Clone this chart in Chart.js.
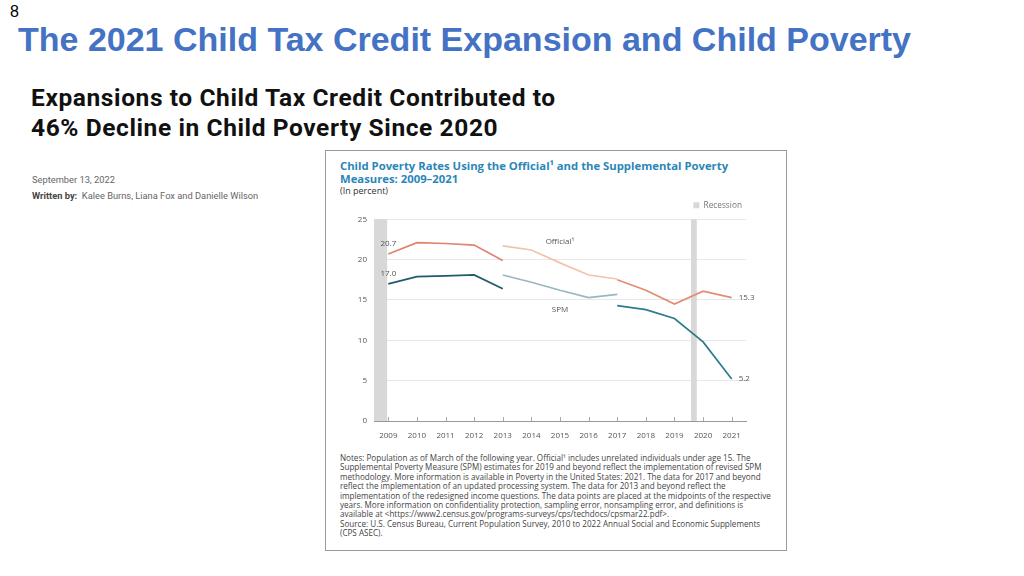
<!DOCTYPE html>
<html>
<head>
<meta charset="utf-8">
<script src="https://cdn.jsdelivr.net/npm/chart.js@4.4.0/dist/chart.umd.min.js"></script>
<style>
  body { margin: 0; width: 1024px; height: 576px; background: #fff; position: relative; overflow: hidden; }
  .abs { position: absolute; white-space: nowrap; }
  #slideNo { left: 10px; top: 3px; font: 16px "Liberation Sans", Arial, sans-serif; color: #000; }
  #slideTitle { left: 18px; top: 22px; font: bold 34px/1 "Liberation Sans", Arial, sans-serif; color: #4472c4; }
  .headline { left: 31px; font: bold 24.5px/1 Roboto, sans-serif; letter-spacing: 0.6px; color: #111; }
  #head1 { top: 86px; }
  #head2 { top: 115.5px; }
  #date { left: 32px; top: 174px; font: 9.3px Roboto, sans-serif; color: #666; }
  #authors { left: 32px; top: 190px; font: 9.3px Roboto, sans-serif; color: #666; }
  #authors b { color: #444; }
  #box { left: 325px; top: 150px; width: 460px; height: 399px; border: 1.5px solid #9a9a9a; background: #fff; }
  #chartTitle { left: 340px; top: 159px; font: bold 11.3px/13px "Open Sans", sans-serif; color: #2b86b8; }
  #unit { left: 340px; top: 184px; font: 9px "Open Sans", sans-serif; color: #333; }
  #notes { left: 340px; top: 453px; font: 8.1px/9.4px "Open Sans", sans-serif; color: #444; }
  #wrap { left: 326px; top: 197px; width: 460px; height: 249px; }
</style>
</head>
<body>
<div class="abs" id="slideNo">8</div>
<div class="abs" id="slideTitle">The 2021 Child Tax Credit Expansion and Child Poverty</div>
<div class="abs headline" id="head1">Expansions to Child Tax Credit Contributed to</div>
<div class="abs headline" id="head2">46% Decline in Child Poverty Since 2020</div>
<div class="abs" id="date">September 13, 2022</div>
<div class="abs" id="authors"><b>Written by:</b>&nbsp; Kalee Burns, Liana Fox and Danielle Wilson</div>
<div class="abs" id="box"></div>
<div class="abs" id="chartTitle">Child Poverty Rates Using the Official¹ and the Supplemental Poverty<br>Measures: 2009–2021</div>
<div class="abs" id="unit">(In percent)</div>
<div class="abs" id="wrap"><canvas id="myChart" width="460" height="249"></canvas></div>
<div class="abs" id="notes">
Notes: Population as of March of the following year. Official¹ includes unrelated individuals under age 15. The<br>
Supplemental Poverty Measure (SPM) estimates for 2019 and beyond reflect the implementation of revised SPM<br>
methodology. More information is available in Poverty in the United States: 2021. The data for 2017 and beyond<br>
reflect the implementation of an updated processing system. The data for 2013 and beyond reflect the<br>
implementation of the redesigned income questions. The data points are placed at the midpoints of the respective<br>
years. More information on confidentiality protection, sampling error, nonsampling error, and definitions is<br>
available at &lt;https://www2.census.gov/programs-surveys/cps/techdocs/cpsmar22.pdf&gt;.<br>
Source: U.S. Census Bureau, Current Population Survey, 2010 to 2022 Annual Social and Economic Supplements<br>
(CPS ASEC).
</div>
<script>
// years on the x axis
var years = [2009, 2010, 2011, 2012, 2013, 2014, 2015, 2016, 2017, 2018, 2019, 2020, 2021];
var yTicks = [0, 5, 10, 15, 20, 25];

// official measure, three segments (breaks at 2013 and 2017)
var officialYears1 = [2009, 2010, 2011, 2012, 2013];
var official1 = [20.7, 22.1, 22.0, 21.8, 19.9];
var officialYears2 = [2013, 2014, 2015, 2016, 2017];
var official2 = [21.7, 21.2, 19.6, 18.1, 17.6];
var officialYears3 = [2017, 2018, 2019, 2020, 2021];
var official3 = [17.5, 16.2, 14.5, 16.1, 15.3];

// supplemental poverty measure
var spmYears1 = [2009, 2010, 2011, 2012, 2013];
var spm1 = [17.0, 17.9, 18.0, 18.1, 16.4];
var spmYears2 = [2013, 2014, 2015, 2016, 2017];
var spm2 = [18.1, 17.2, 16.2, 15.3, 15.7];
var spmYears3 = [2017, 2018, 2019, 2020, 2021];
var spm3 = [14.3, 13.8, 12.7, 9.8, 5.2];

// recessions (data placed at midpoints of years)
var recessionStart = [2008.5, 2019.58];
var recessionEnd = [2008.96, 2019.78];

// text labels in data units
var noteText = ['20.7', '17.0', '15.3', '5.2', 'Official¹', 'SPM'];
var noteX = [2009, 2009, 2021, 2021, 2015, 2015];
var noteY = [20.7, 17.0, 15.3, 5.2, 22.2, 13.8];
var noteAlign = ['center', 'center', 'left', 'left', 'center', 'center'];

function pts(xs, ys) {
  return xs.map(function (x, i) { return { x: x, y: ys[i] }; });
}

function line(label, xs, ys, color) {
  return {
    label: label,
    data: pts(xs, ys),
    borderColor: color,
    backgroundColor: color,
    borderWidth: 1.7,
    pointRadius: 0,
    tension: 0
  };
}

var chartFont = '"Open Sans", sans-serif';

var extras = {
  id: 'extras',
  beforeDatasetsDraw: function (chart) {
    var ctx = chart.ctx, x = chart.scales.x, y = chart.scales.y;
    ctx.save();
    ctx.fillStyle = '#d8d8d8';
    for (var i = 0; i < recessionStart.length; i++) {
      var x0 = x.getPixelForValue(recessionStart[i]);
      var x1 = x.getPixelForValue(recessionEnd[i]);
      ctx.fillRect(x0, y.getPixelForValue(25), x1 - x0, y.getPixelForValue(0) - y.getPixelForValue(25));
    }
    // small inward tick marks
    ctx.strokeStyle = '#aaa';
    ctx.lineWidth = 1;
    years.forEach(function (yr) {
      var px = Math.round(x.getPixelForValue(yr)) + 0.5;
      ctx.beginPath();
      ctx.moveTo(px, y.getPixelForValue(0));
      ctx.lineTo(px, y.getPixelForValue(0) - 4);
      ctx.stroke();
    });
    ctx.restore();
  },
  afterDatasetsDraw: function (chart) {
    var ctx = chart.ctx, x = chart.scales.x, y = chart.scales.y;
    ctx.save();
    ctx.font = '8px ' + chartFont;
    ctx.fillStyle = '#555';
    ctx.textBaseline = 'middle';
    for (var i = 0; i < noteText.length; i++) {
      var px = x.getPixelForValue(noteX[i]);
      var py = y.getPixelForValue(noteY[i]);
      ctx.textAlign = noteAlign[i];
      if (i < 2) { py -= 10; }
      if (noteAlign[i] === 'left') { px += 7; }
      ctx.fillText(noteText[i], px, py);
    }
    ctx.restore();
  }
};

var ctx = document.getElementById('myChart');
var myChart = new Chart(ctx, {
  type: 'line',
  data: {
    datasets: [
      line('Official 2009-2013', officialYears1, official1, '#e08470'),
      line('Official 2013-2017', officialYears2, official2, '#f2c2ad'),
      line('Official 2017-2021', officialYears3, official3, '#e38b74'),
      line('SPM 2009-2013', spmYears1, spm1, '#205b6b'),
      line('SPM 2013-2017', spmYears2, spm2, '#98b7c2'),
      line('SPM 2017-2021', spmYears3, spm3, '#2f7a8c'),
      { label: 'Recession', data: [], borderColor: '#d8d8d8', backgroundColor: '#d8d8d8', borderWidth: 0 }
    ]
  },
  plugins: [extras],
  options: {
    responsive: false,
    animation: false,
    layout: { padding: { left: 0, right: 40, top: 0, bottom: 0 } },
    plugins: {
      tooltip: { enabled: false },
      legend: {
        position: 'top',
        align: 'end',
        labels: {
          boxWidth: 6,
          boxHeight: 6,
          padding: 4,
          color: '#777',
          font: { family: chartFont, size: 8.3 },
          filter: function (item) { return item.text === 'Recession'; }
        }
      }
    },
    scales: {
      x: {
        type: 'linear',
        min: 2008.5,
        max: 2021.5,
        afterBuildTicks: function (s) { s.ticks = years.map(function (v) { return { value: v }; }); },
        afterFit: function (s) { s.height = 25; },
        grid: { display: false, drawTicks: false },
        border: { display: true, color: '#999', width: 1 },
        ticks: {
          padding: 10,
          color: '#555',
          font: { family: chartFont, size: 8 },
          maxRotation: 0,
          autoSkip: false,
          callback: function (v) { return String(v); }
        }
      },
      y: {
        min: 0,
        max: 25,
        afterBuildTicks: function (s) { s.ticks = yTicks.map(function (v) { return { value: v }; }); },
        afterFit: function (s) { s.width = 48; },
        grid: { color: '#e8e8e8', lineWidth: 1, drawTicks: false },
        border: { display: false },
        ticks: {
          padding: 7,
          color: '#555',
          font: { family: chartFont, size: 8 }
        }
      }
    }
  }
});
</script>
</body>
</html>
